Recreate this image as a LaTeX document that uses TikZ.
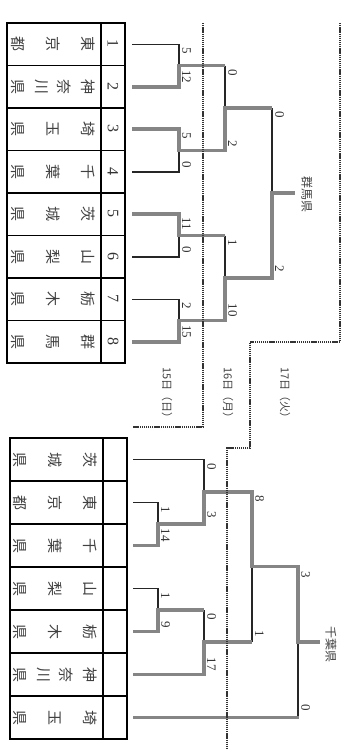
\documentclass[tikz,border=0pt]{standalone}
\usepackage{fontspec}
\setmainfont{Liberation Serif}
\newfontfamily\jpfont{Noto Sans CJK JP}
\usepackage{tikz}

\tikzset{
  thinline/.style={line width=1.5pt, black!85},
  winline/.style={line width=3.8pt, black!48},
  dayline/.style={line width=2.3pt, black!80, dash pattern=on 1.3pt off 0.8pt},
  tabline/.style={line width=1.6pt},
  prefchar/.style={font=\jpfont\fontsize{15}{15}\selectfont, rotate=-90, inner sep=0pt, black!75},
  seed/.style={font=\fontsize{16}{16}\selectfont, rotate=-90, inner sep=0pt, black!80},
  score/.style={font=\fontsize{13}{13}\selectfont, rotate=-90, inner sep=0.5pt, black!80},
  scoretop/.style={score, anchor=south west},
  scorebot/.style={score, anchor=south east},
  daylabel/.style={font=\jpfont\fontsize{11}{11}\selectfont, rotate=-90, inner sep=0pt, black!75},
  champ/.style={font=\jpfont\fontsize{12}{12}\selectfont, rotate=-90, inner sep=0pt, black!75}
}

% one prefecture name, read from right to left in its row
\newcommand\prefrow[4]{% name, y, number of characters, characters
  \foreach \ch [count=\k] in {#4}
    \node[prefchar] (#1-\k) at ({88-70*(\k-1)/(#3-1)}, #2) {\ch};
}

\begin{document}
\begin{tikzpicture}[x=1pt,y=-1pt]
\useasboundingbox (0,0) rectangle (350,753);

% Upper table
\draw[tabline] (7,23) rectangle (125,363);
\draw[tabline] (101,23) -- (101,363);
\foreach \r in {1,...,7}
  \draw[tabline] (7,{23+42.5*\r}) -- (125,{23+42.5*\r});
\foreach \r in {1,...,8}
  \node[seed] (s\r) at (113,{1.25+42.5*\r}) {\r};

\prefrow{u1}{44.25}{3}{東,京,都}
\prefrow{u2}{86.75}{4}{神,奈,川,県}
\prefrow{u3}{129.25}{3}{埼,玉,県}
\prefrow{u4}{171.75}{3}{千,葉,県}
\prefrow{u5}{214.25}{3}{茨,城,県}
\prefrow{u6}{256.75}{3}{山,梨,県}
\prefrow{u7}{299.25}{3}{栃,木,県}
\prefrow{u8}{341.75}{3}{群,馬,県}

% Upper bracket, losing sides
\draw[thinline] (132,44.25) -| (179,65.5);
\draw[thinline] (132,171.75) -| (179,150.5);
\draw[thinline] (132,256.75) -| (179,235.5);
\draw[thinline] (132,299.25) -| (179,320.5);
\draw[thinline] (225,65.5) -- (225,108);
\draw[thinline] (225,235.5) -- (225,278);
\draw[thinline] (272,108) -- (272,193);

% Upper bracket, winning sides
\draw[winline] (132,86.75) -| (179,65.5) -- (225,65.5);
\draw[winline] (132,129.25) -| (179,150.5) -- (225,150.5) -- (225,108) -- (272,108);
\draw[winline] (132,214.25) -| (179,235.5) -- (225,235.5);
\draw[winline] (132,341.75) -| (179,320.5) -- (225,320.5) -- (225,278) -- (272,278) -- (272,193) -- (295,193);

% Upper scores
\node[scoretop] (ua1) at (181.5,47.25) {5};
\node[scorebot] (ua2) at (181.5,83.75) {12};
\node[scoretop] (ub1) at (181.5,132.25) {5};
\node[scorebot] (ub2) at (181.5,168.75) {0};
\node[scoretop] (uc1) at (181.5,217.25) {11};
\node[scorebot] (uc2) at (181.5,253.75) {0};
\node[scoretop] (ud1) at (181.5,302.25) {2};
\node[scorebot] (ud2) at (181.5,338.75) {15};
\node[scoretop] (ue1) at (227.5,68.5) {0};
\node[scorebot] (ue2) at (227.5,147.5) {2};
\node[scoretop] (uf1) at (227.5,238.5) {1};
\node[scorebot] (uf2) at (227.5,317.5) {10};
\node[scoretop] (ug1) at (274.5,111) {0};
\node[scorebot] (ug2) at (274.5,273) {2};

\node[champ] (w1) at (307,194) {群馬県};

% Lower table
\begin{scope}[xshift=2pt]
\draw[tabline] (8,438) rectangle (125,739);
\draw[tabline] (101,438) -- (101,739);
\foreach \r in {1,...,6}
  \draw[tabline] (8,{438+43*\r}) -- (125,{438+43*\r});

\prefrow{l1}{459.5}{3}{茨,城,県}
\prefrow{l2}{502.5}{3}{東,京,都}
\prefrow{l3}{545.5}{3}{千,葉,県}
\prefrow{l4}{588.5}{3}{山,梨,県}
\prefrow{l5}{631.5}{3}{栃,木,県}
\prefrow{l6}{674.5}{4}{神,奈,川,県}
\prefrow{l7}{717.5}{3}{埼,玉,県}
\end{scope}

% Lower bracket, losing sides
\draw[thinline] (133,459.5) -| (204,491.75);
\draw[thinline] (133,502.5) -| (158,524);
\draw[thinline] (133,588.5) -| (158,610);
\draw[thinline] (204,610) -- (204,642.25);
\draw[thinline] (252,566.5) -- (252,642.25);
\draw[thinline] (298,642) -- (298,717.5);

% Lower bracket, winning sides
\draw[winline] (133,545.5) -| (158,524) -- (204,524) -- (204,491.75) -- (252,491.75) -- (252,566.5) -- (298,566.5) -- (298,642) -- (320,642);
\draw[winline] (133,631.5) -| (158,610) -- (204,610);
\draw[winline] (133,674.5) -| (204,642.25) -- (252,642.25);
\draw[winline] (133,717.5) -- (298.7,717.5);

% Lower scores
\node[scoretop] (la1) at (160.5,505.5) {1};
\node[scorebot] (la2) at (160.5,542.5) {14};
\node[scoretop] (lb1) at (206.5,462.5) {0};
\node[scorebot] (lb2) at (206.5,519) {3};
\node[scoretop] (lc1) at (160.5,591.5) {1};
\node[scorebot] (lc2) at (160.5,628.5) {9};
\node[scoretop] (ld1) at (206.5,613) {0};
\node[scorebot] (ld2) at (206.5,671.5) {17};
\node[scoretop] (le1) at (254.5,494.75) {8};
\node[scorebot] (le2) at (254.5,638) {1};
\node[scoretop] (lf1) at (300.5,571) {3};
\node[scorebot] (lf2) at (300.5,712) {0};

\node[champ] (w2) at (331,644) {千葉県};

% Day boundaries
\draw[dayline] (203,23) -- (203,427) -- (133,427);
\draw[dayline] (340,23) -- (340,342) -- (250,342) -- (250,448) -- (227,448) -- (227,748);

\node[daylabel, anchor=west] (d15) at (167,367) {15日（日）};
\node[daylabel, anchor=west] (d16) at (228,367) {16日（月）};
\node[daylabel, anchor=west] (d17) at (285,367) {17日（火）};

\end{tikzpicture}
\end{document}
